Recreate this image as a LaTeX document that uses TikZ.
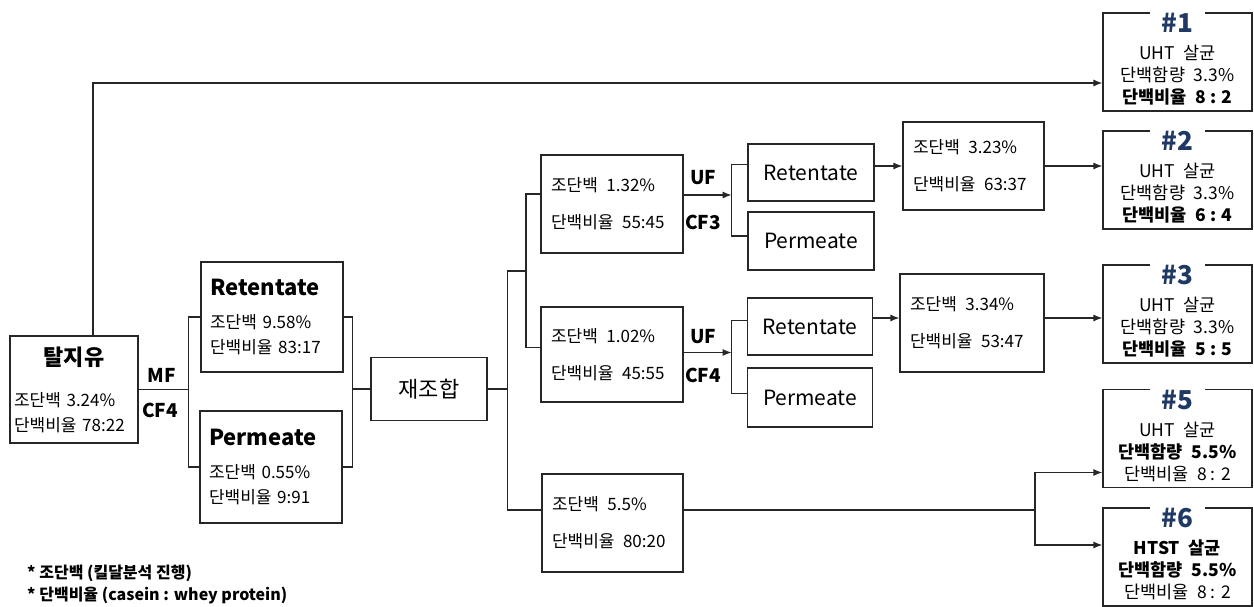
\documentclass[tikz,border=0pt]{standalone}
\usepackage{fontspec}
\setmainfont{Noto Sans CJK KR}
\usetikzlibrary{arrows.meta}
\setlength{\parindent}{0pt}
\definecolor{navy}{HTML}{1F3864}
\definecolor{ink}{HTML}{262626}

\tikzset{
  box/.style={draw=ink, line width=1.2pt, inner sep=0pt, font=\fontsize{17}{22}\selectfont},
  data/.style={box, align=left},
  plain/.style={box, font=\fontsize{21}{25}\selectfont},
  prod/.style={box, align=center, minimum width=149pt, minimum height=98pt, font=\fontsize{17.5}{22}\selectfont},
  ptitle/.style={fill=white, inner xsep=12pt, inner ysep=3pt, text=navy, font=\bfseries\fontsize{26}{26}\selectfont, text height=19pt, text depth=0pt, anchor=north, yshift=2pt},
  op/.style={inner sep=0pt, font=\bfseries\fontsize{19}{19}\selectfont},
  note/.style={inner sep=0pt, anchor=west, font=\bfseries\fontsize{16}{19}\selectfont},
  link/.style={draw=ink, line width=1.2pt},
}
\newcommand{\hd}[1]{{\bfseries\fontsize{22}{26}\selectfont #1\par}}

\begin{document}
\begin{tikzpicture}[x=1pt, y=-1pt, >={Latex[length=9pt,width=7pt]}]
\path[use as bounding box, fill=white] (0,0) rectangle (1254,607);

% raw milk and MF
\node[data, text width=120pt, minimum width=128pt, minimum height=107pt] (milk) at (74,389.5)
  {\hd{\centering 탈지유}\vspace{19pt}조단백 3.24\%\\[3pt]단백비율 78:22};
\node[data, text width=124pt, minimum width=142pt, minimum height=110pt] (mfret) at (272,317)
  {\hd{Retentate}\vspace{11pt}조단백 9.58\%\\[3pt]단백비율 83:17};
\node[data, text width=124pt, minimum width=142pt, minimum height=112pt] (mfper) at (271,467)
  {\hd{Permeate}\vspace{11pt}조단백 0.55\%\\[3pt]단백비율 9:91};
\node[plain, font=\fontsize{22}{26}\selectfont, minimum width=116pt, minimum height=63pt] (mix) at (429,389) {재조합};

% feeds for UF
\node[data, text width=122pt, minimum width=142pt, minimum height=98pt] (feedA) at (612,204)
  {조단백\enspace 1.32\%\\[15pt]단백비율\enspace 55:45};
\node[data, text width=122pt, minimum width=142pt, minimum height=95pt] (feedB) at (612,354.5)
  {조단백\enspace 1.02\%\\[15pt]단백비율\enspace 45:55};
\node[data, text width=121pt, minimum width=141pt, minimum height=98pt] (feedC) at (612.5,523)
  {조단백\enspace 5.5\%\\[15pt]단백비율\enspace 80:20};

% UF fractions
\node[plain, minimum width=126pt, minimum height=57pt] (retA) at (811,172.5) {Retentate};
\node[plain, minimum width=126pt, minimum height=58pt] (perA) at (811,241) {Permeate};
\node[plain, minimum width=125pt, minimum height=57pt] (retB) at (810,326.5) {Retentate};
\node[plain, minimum width=125pt, minimum height=59pt] (perB) at (810,397.5) {Permeate};
\node[data, text width=121pt, minimum width=141pt, minimum height=88pt] (concA) at (973.5,166)
  {조단백\enspace 3.23\%\\[15pt]단백비율\enspace 63:37};
\node[data, text width=124pt, minimum width=144pt, minimum height=98pt] (concB) at (972,323)
  {조단백\enspace 3.34\%\\[15pt]단백비율\enspace 53:47};

% products
\node[prod] (p1) at (1177.5,62) {\rule{0pt}{41pt}UHT\enspace 살균\\단백함량\enspace 3.3\%\\\textbf{단백비율\enspace 8 : 2}};
\node[prod] (p2) at (1177.5,180) {\rule{0pt}{41pt}UHT\enspace 살균\\단백함량\enspace 3.3\%\\\textbf{단백비율\enspace 6 : 4}};
\node[prod] (p3) at (1177.5,314) {\rule{0pt}{41pt}UHT\enspace 살균\\단백함량\enspace 3.3\%\\\textbf{단백비율\enspace 5 : 5}};
\node[prod] (p5) at (1177.5,438.5) {\rule{0pt}{41pt}UHT\enspace 살균\\\textbf{단백함량\enspace 5.5\%}\\단백비율\enspace 8 : 2};
\node[prod] (p6) at (1177.5,557) {\rule{0pt}{41pt}\textbf{HTST\enspace 살균}\\\textbf{단백함량\enspace 5.5\%}\\단백비율\enspace 8 : 2};
\node[ptitle] (t1) at (p1.north) {\#1};
\node[ptitle] (t2) at (p2.north) {\#2};
\node[ptitle] (t3) at (p3.north) {\#3};
\node[ptitle] (t5) at (p5.north) {\#5};
\node[ptitle] (t6) at (p6.north) {\#6};

% process labels
\node[op] (mf)   at (162,375) {MF};
\node[op] (mfcf) at (160,410) {CF4};
\node[op] (ufA)  at (703,178) {UF};
\node[op] (ufAcf) at (703,222) {CF3};
\node[op] (ufB)  at (703,337) {UF};
\node[op] (ufBcf) at (703,375) {CF4};

% junctions
\coordinate (jtop) at (93,83);
\coordinate (jmf) at ([xshift=50pt]milk.east);
\coordinate (jmix) at ([xshift=-18pt]mix.west);
\coordinate (jsplit) at ([xshift=20pt]mix.east);
\coordinate (juf) at (526,271);
\coordinate (jA) at ([xshift=48pt,yshift=9pt]feedA.east);
\coordinate (jB) at ([xshift=48pt,yshift=2pt]feedB.east);
\coordinate (jfin) at (1035,510);

% connectors
\draw[link,->] (milk.north -| jtop) -- (jtop) -- (jtop -| p1.west);
\draw[link] (milk.east) -- (jmf);
\draw[link] (mfret.west) -| (jmf) |- (mfper.west);
\draw[link] (mfret.east) -| (jmix) |- (mfper.east);
\draw[link] (jmix) -- (mix.west);
\draw[link] (mix.east) -- (jsplit);
\draw[link] ([yshift=13pt]feedC.west) -| (jsplit) |- (juf);
\draw[link] ([yshift=10pt]feedA.west) -| (juf) |- ([yshift=7pt]feedB.west);
\draw[link,->] ([yshift=9pt]feedA.east) -- (jA);
\draw[link,->] ([yshift=2pt]feedB.east) -- (jB);
\draw[link] ([yshift=8pt]retA.west) -| (jA) |- ([yshift=5pt]perA.west);
\draw[link] ([yshift=6pt]retB.west) -| (jB) |- ([yshift=4pt]perB.west);
\draw[link,->] (retA.east |- concA.west) -- (concA.west);
\draw[link,->] ([yshift=5pt]concB.west -| retB.east) -- ([yshift=5pt]concB.west);
\draw[link,->] (concA.east) -- (concA.east -| p2.west);
\draw[link,->] ([yshift=5pt]concB.east) -- ([yshift=5pt]concB.east -| p3.west);
\draw[link] ([yshift=13pt]feedC.east) -- (jfin);
\draw[link,->] (jfin) |- ([yshift=-34pt]p5.west);
\draw[link,->] (jfin) |- ([yshift=12pt]p6.west);

% notes
\node[note] (fn1) at (27,573) {* 조단백 (킬달분석 진행)};
\node[note] (fn2) at (27,595) {* 단백비율 (casein : whey protein)};
\end{tikzpicture}
\end{document}
